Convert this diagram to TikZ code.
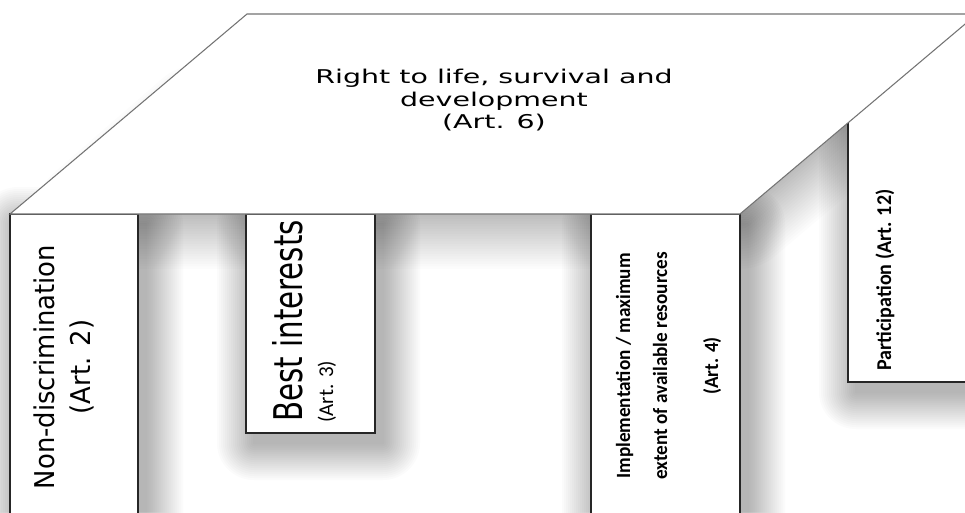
\documentclass[tikz,border=0pt]{standalone}
\usepackage{fontspec}
\setmainfont{DejaVu Sans}
\newfontfamily\slabfont[FakeStretch=1.5]{DejaVu Sans}
\newfontfamily\ndfont[FakeStretch=0.95]{DejaVu Sans}
\newfontfamily\bifont[FakeStretch=0.74]{DejaVu Sans}
\newfontfamily\condfont{Carlito}
\newfontfamily\condbold[FakeStretch=0.95]{Carlito}

\begin{document}
\begin{tikzpicture}[
  x=0.02cm, y=-0.02cm,
  pillar/.style={draw=black!85, line width=0.7pt, fill=white},
  slabedge/.style={draw=black!55, line width=0.6pt, fill=white},
  slabshade/.style={draw=black, opacity=0.013, line join=round},
  pillarshade/.style={fill=black, opacity=0.014},
  vlabel/.style={rotate=90, anchor=base, inner sep=0pt},
  slabtext/.style={anchor=base, inner sep=0pt, font=\slabfont\fontsize{10.8}{13}\selectfont},
  cond/.style={font=\condbold\bfseries\fontsize{11.5}{14}\selectfont}
]
\useasboundingbox (0,0) rectangle (965,512);
\clip (0,0) rectangle (965,512);
\fill[white] (0,0) rectangle (965,512);
% shadow under the slab
\foreach \d in {2.5,5,...,55} {
  \draw[slabshade, line width=\d*1.134pt] (90,214) -- (198,120) -- (851,120) -- (740,214) -- cycle;
}
% pillar behind the slab
\foreach \d in {1,3,...,37} {
  \fill[pillarshade, rounded corners=\d*0.567pt] (848+8-\d,60+10-\d) rectangle (1000+8+\d,382+10+\d);
}
\path[pillar] (848,22) rectangle (1000,382);
% pillars in front
\foreach \xa/\ya/\xb/\yb in {10/214/138/540, 246/214/375/433, 591/214/740/540} {
  \foreach \d in {1,3,...,37} {
    \fill[pillarshade, rounded corners=\d*0.567pt] (\xa+8-\d,\ya+10-\d) rectangle (\xb+8+\d,\yb+10+\d);
  }
  \path[pillar] (\xa,\ya) rectangle (\xb,\yb);
}
% the slab on top
\path[slabedge] (10,214) -- (247,14) -- (977,14) -- (740,214) -- cycle;
\node[slabtext] (life1) at (494,83) {Right to life, survival and};
\node[slabtext] (life2) at (494,106) {development};
\node[slabtext] (life3) at (494,128) {(Art. 6)};
% labels on the pillars
\node[vlabel, font=\ndfont\fontsize{15.5}{18}\selectfont] (nondisc1) at (54,367) {Non-discrimination};
\node[vlabel, font=\ndfont\fontsize{15.5}{18}\selectfont] (nondisc2) at (91,367) {(Art. 2)};
\node[vlabel, anchor=base west, font=\bifont\fontsize{22.5}{26}\selectfont] (best1) at (302,422) {Best interests};
\node[vlabel, anchor=base west, font=\condfont\fontsize{12}{14}\selectfont] (best2) at (333,423) {(Art. 3)};
\node[vlabel, cond] (impl1) at (630,366) {Implementation / maximum};
\node[vlabel, cond] (impl2) at (667,366) {extent of available resources};
\node[vlabel, cond] (impl3) at (718,366) {(Art. 4)};
\node[vlabel, cond, font=\condbold\bfseries\fontsize{12}{14}\selectfont] (partic) at (891,280) {Participation (Art. 12)};
\end{tikzpicture}
\end{document}
